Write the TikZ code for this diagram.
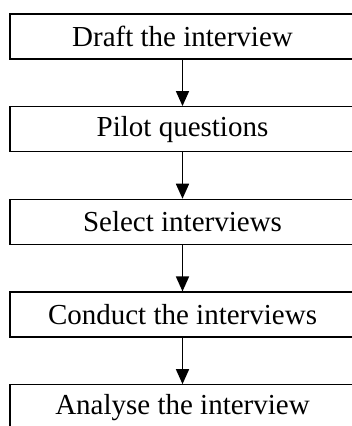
\documentclass[tikz,border=0pt]{standalone}
\usepackage{fontspec}
\setmainfont{Liberation Serif}
\usepackage{tikz}
\usetikzlibrary{arrows.meta, positioning}

\begin{document}
\begin{tikzpicture}[
  x=1pt, y=1pt,
  node distance=46.4pt,
  every node/.style={font=\fontsize{29}{33}\selectfont},
  stepbox/.style={draw=black, line width=1.3pt, minimum width=345pt,
                  minimum height=45pt, inner sep=0pt, align=center},
  arrow/.style={-{Triangle[width=13pt, length=15pt]}, line width=1.6pt}
]
\useasboundingbox (0,0) rectangle (352,426);
\clip (0,0) rectangle (352,426);

% Steps
\node[stepbox] (draft) at (182.5,389.5) {Draft the interview};
\node[stepbox, below=of draft] (pilot) {Pilot questions};
\node[stepbox, below=of pilot] (select) {Select interviews};
\node[stepbox, below=of select] (conduct) {Conduct the interviews};
\node[stepbox, below=of conduct] (analyse) {Analyse the interview};

% Connections
\draw[arrow] (draft) -- (pilot);
\draw[arrow] (pilot) -- (select);
\draw[arrow] (select) -- (conduct);
\draw[arrow] (conduct) -- (analyse);

\end{tikzpicture}
\end{document}
